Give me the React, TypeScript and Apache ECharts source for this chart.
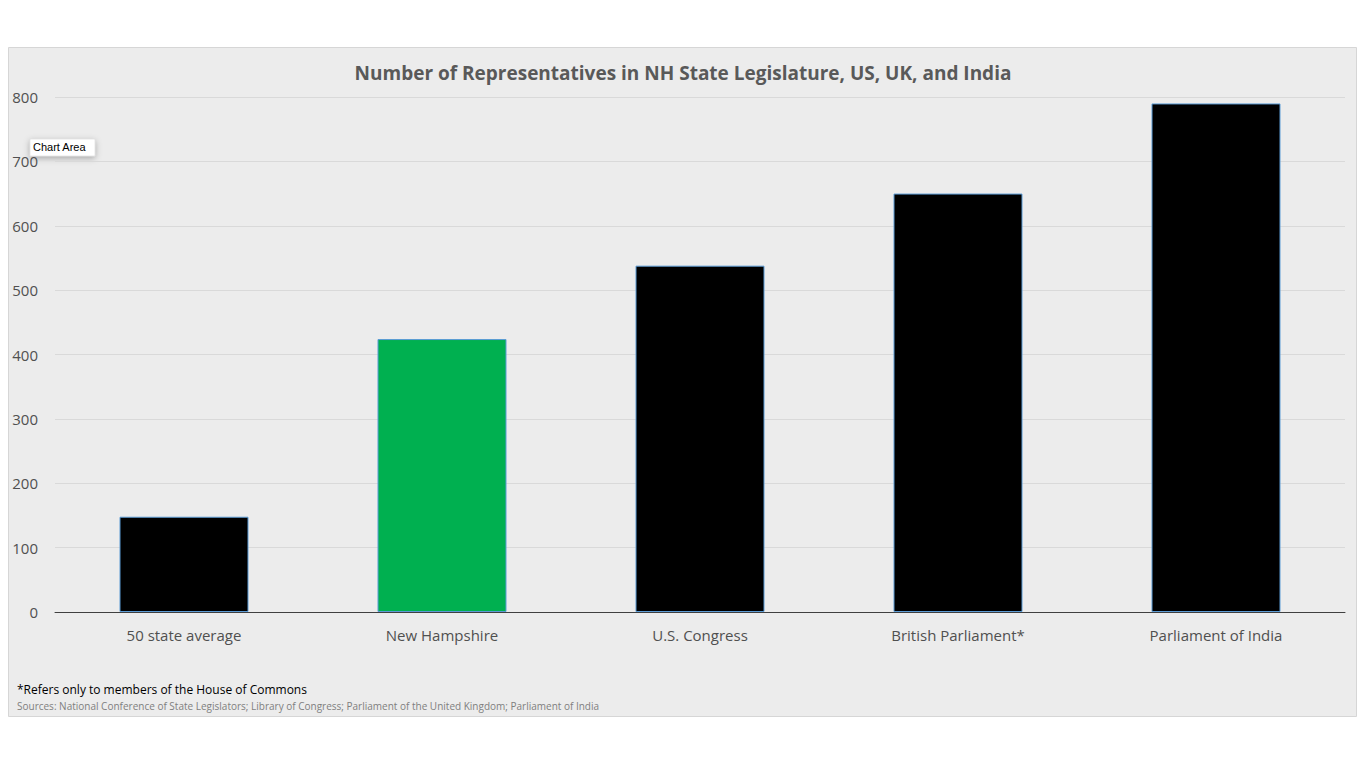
import React, { useEffect, useRef } from "react";
import * as echarts from "echarts";

const categories = ["50 state average", "New Hampshire", "U.S. Congress", "British Parliament*", "Parliament of India"];
const values = [148, 424, 538, 650, 790];
const barColors = ["#000000", "#00b050", "#000000", "#000000", "#000000"];
const yTicks = { min: 0, max: 800, interval: 100 };
const titleText = "Number of Representatives in NH State Legislature, US, UK, and India";
const footnote = "*Refers only to members of the House of Commons";
const sources = "Sources: National Conference of State Legislators; Library of Congress; Parliament of the United Kingdom; Parliament of India";

export default function App() {
  const ref = useRef<HTMLDivElement>(null);
  useEffect(() => {
    const chart = echarts.init(ref.current!, undefined, { renderer: "svg" });
    const font = "'Open Sans', 'Noto Sans', sans-serif";
    chart.setOption({
      animation: false,
      backgroundColor: "#ffffff",
      textStyle: { fontFamily: font },
      graphic: [
        {
          type: "rect",
          z: -10,
          silent: true,
          shape: { x: 8.5, y: 47.5, width: 1348, height: 669 },
          style: { fill: "#ececec", stroke: "#d6d6d6", lineWidth: 1 },
        },
        {
          type: "text",
          left: "center",
          top: 63,
          style: { text: titleText, font: `bold 19px ${font}`, fill: "#595959" },
        },
        {
          type: "text",
          x: 17,
          y: 683,
          style: { text: footnote, font: `12px ${font}`, fill: "#000000" },
        },
        {
          type: "text",
          x: 17,
          y: 701,
          style: { text: sources, font: `10px ${font}`, fill: "#7f7f7f" },
        },
        {
          type: "group",
          x: 30,
          y: 139,
          z: 100,
          children: [
            {
              type: "rect",
              shape: { x: 0, y: 0, width: 65, height: 17 },
              style: {
                fill: "#ffffff",
                stroke: "#d0d0d0",
                lineWidth: 0.5,
                shadowBlur: 6,
                shadowColor: "rgba(0,0,0,0.3)",
                shadowOffsetY: 2,
              },
            },
            {
              type: "text",
              x: 3,
              y: 2,
              style: { text: "Chart Area", font: `11px 'Liberation Sans', Arial, sans-serif`, fill: "#000000" },
            },
          ],
        },
      ],
      grid: { left: 55, right: 21, top: 97, bottom: 156, containLabel: false },
      xAxis: {
        type: "category",
        data: categories,
        axisTick: { show: false },
        axisLine: { lineStyle: { color: "#404040", width: 1 } },
        axisLabel: { color: "#505050", fontSize: 15, margin: 15, fontFamily: font },
      },
      yAxis: {
        type: "value",
        min: yTicks.min,
        max: yTicks.max,
        interval: yTicks.interval,
        axisLine: { show: false },
        axisTick: { show: false },
        axisLabel: { color: "#505050", fontSize: 15, margin: 17, fontFamily: font },
        splitLine: { lineStyle: { color: "#d9d9d9", width: 1 } },
      },
      series: [
        {
          type: "bar",
          barWidth: "50%",
          data: values.map((v, i) => ({
            value: v,
            itemStyle: { color: barColors[i], borderColor: "#5b9bd5", borderWidth: 1 },
          })),
        },
      ],
    });
    return () => chart.dispose();
  }, []);
  return (
    <div
      ref={ref}
      style={{ position: "fixed", left: 0, top: 0, width: 1366, height: 768 }}
    />
  );
}
